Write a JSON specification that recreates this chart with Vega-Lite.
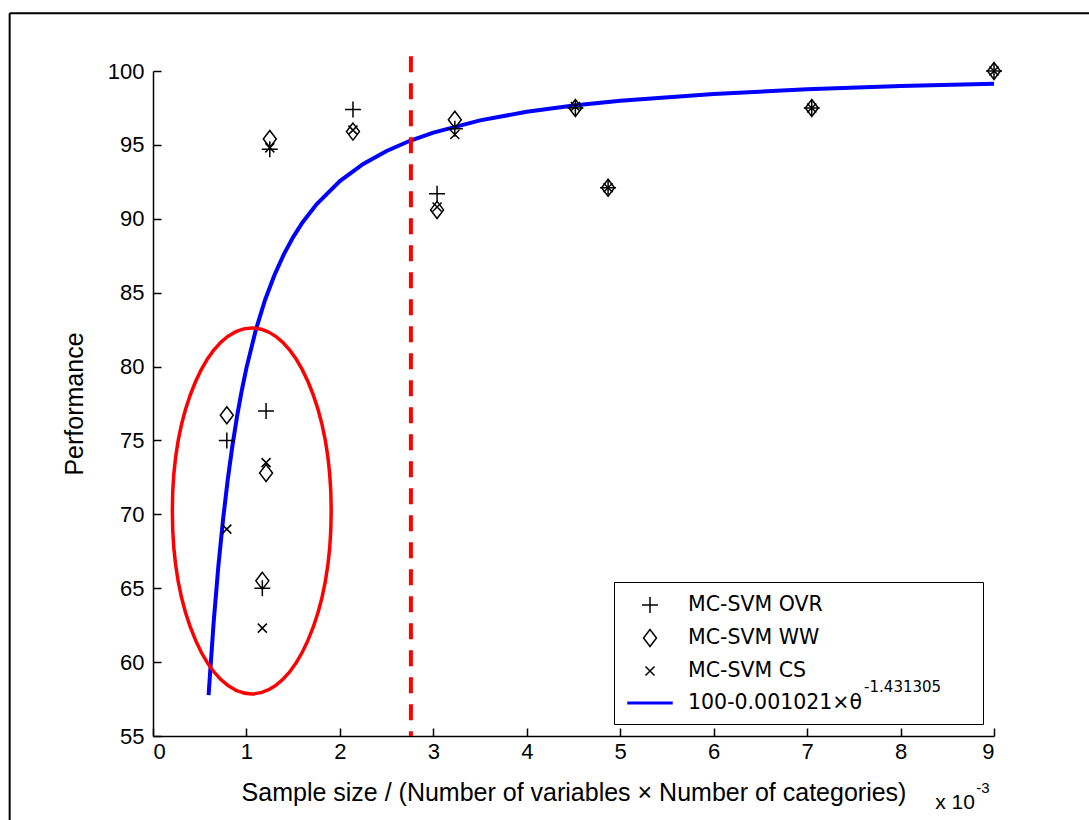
{
  "$schema": "https://vega.github.io/schema/vega-lite/v6.json",
  "width": 841,
  "height": 665,
  "autosize": {"type": "none"},
  "padding": {"left": 153, "top": 71, "right": 95, "bottom": 84},
  "background": "white",
  "config": {
    "view": {"stroke": null},
    "font": "Liberation Sans",
    "legend": {
      "orient": "none",
      "legendX": 461,
      "legendY": 511,
      "strokeColor": "black",
      "fillColor": null,
      "padding": 10,
      "labelFont": "DejaVu Sans",
      "labelFontSize": 20.5,
      "labelColor": "black",
      "labelLimit": 0,
      "labelOffset": 25,
      "symbolOffset": 13,
      "symbolSize": 576,
      "symbolStrokeWidth": 1.5,
      "rowPadding": 8
    }
  },
  "datasets": {
    "points": [
      {"ratio": 0.79, "performance": 75.0, "series": "MC-SVM OVR"},
      {"ratio": 1.21, "performance": 77.0, "series": "MC-SVM OVR"},
      {"ratio": 1.17, "performance": 65.0, "series": "MC-SVM OVR"},
      {"ratio": 1.25, "performance": 94.7, "series": "MC-SVM OVR"},
      {"ratio": 2.14, "performance": 97.4, "series": "MC-SVM OVR"},
      {"ratio": 3.04, "performance": 91.7, "series": "MC-SVM OVR"},
      {"ratio": 3.23, "performance": 96.1, "series": "MC-SVM OVR"},
      {"ratio": 4.52, "performance": 97.5, "series": "MC-SVM OVR"},
      {"ratio": 4.87, "performance": 92.1, "series": "MC-SVM OVR"},
      {"ratio": 7.05, "performance": 97.5, "series": "MC-SVM OVR"},
      {"ratio": 9.0, "performance": 100.0, "series": "MC-SVM OVR"},
      {"ratio": 0.79, "performance": 76.7, "series": "MC-SVM WW"},
      {"ratio": 1.21, "performance": 72.8, "series": "MC-SVM WW"},
      {"ratio": 1.17, "performance": 65.5, "series": "MC-SVM WW"},
      {"ratio": 1.25, "performance": 95.4, "series": "MC-SVM WW"},
      {"ratio": 2.14, "performance": 95.9, "series": "MC-SVM WW"},
      {"ratio": 3.04, "performance": 90.6, "series": "MC-SVM WW"},
      {"ratio": 3.23, "performance": 96.7, "series": "MC-SVM WW"},
      {"ratio": 4.52, "performance": 97.5, "series": "MC-SVM WW"},
      {"ratio": 4.87, "performance": 92.1, "series": "MC-SVM WW"},
      {"ratio": 7.05, "performance": 97.5, "series": "MC-SVM WW"},
      {"ratio": 9.0, "performance": 100.0, "series": "MC-SVM WW"},
      {"ratio": 0.79, "performance": 69.0, "series": "MC-SVM CS"},
      {"ratio": 1.21, "performance": 73.5, "series": "MC-SVM CS"},
      {"ratio": 1.17, "performance": 62.3, "series": "MC-SVM CS"},
      {"ratio": 1.25, "performance": 94.8, "series": "MC-SVM CS"},
      {"ratio": 2.14, "performance": 96.0, "series": "MC-SVM CS"},
      {"ratio": 3.04, "performance": 90.8, "series": "MC-SVM CS"},
      {"ratio": 3.23, "performance": 95.7, "series": "MC-SVM CS"},
      {"ratio": 4.52, "performance": 97.6, "series": "MC-SVM CS"},
      {"ratio": 4.87, "performance": 92.1, "series": "MC-SVM CS"},
      {"ratio": 7.05, "performance": 97.5, "series": "MC-SVM CS"},
      {"ratio": 9.0, "performance": 100.0, "series": "MC-SVM CS"}
    ],
    "fit": [
      {"ratio": 0.595, "performance": 57.76},
      {"ratio": 0.6, "performance": 58.26},
      {"ratio": 0.65, "performance": 62.78},
      {"ratio": 0.7, "performance": 66.53},
      {"ratio": 0.75, "performance": 69.67},
      {"ratio": 0.8, "performance": 72.35},
      {"ratio": 0.85, "performance": 74.65},
      {"ratio": 0.9, "performance": 76.64},
      {"ratio": 0.95, "performance": 78.38},
      {"ratio": 1.0, "performance": 79.91},
      {"ratio": 1.1, "performance": 82.47},
      {"ratio": 1.2, "performance": 84.52},
      {"ratio": 1.3, "performance": 86.2},
      {"ratio": 1.4, "performance": 87.59},
      {"ratio": 1.5, "performance": 88.76},
      {"ratio": 1.6, "performance": 89.75},
      {"ratio": 1.75, "performance": 90.98},
      {"ratio": 2.0, "performance": 92.55},
      {"ratio": 2.25, "performance": 93.71},
      {"ratio": 2.5, "performance": 94.59},
      {"ratio": 2.75, "performance": 95.28},
      {"ratio": 3.0, "performance": 95.83},
      {"ratio": 3.5, "performance": 96.66},
      {"ratio": 4.0, "performance": 97.24},
      {"ratio": 4.5, "performance": 97.67},
      {"ratio": 5.0, "performance": 97.99},
      {"ratio": 6.0, "performance": 98.45},
      {"ratio": 7.0, "performance": 98.76},
      {"ratio": 8.0, "performance": 98.98},
      {"ratio": 9.0, "performance": 99.13}
    ]
  },
  "layer": [
    {
      "data": {"name": "fit"},
      "mark": {"type": "line", "color": "#0000ff", "strokeWidth": 4, "clip": false},
      "encoding": {
        "x": {
          "field": "ratio", "type": "quantitative",
          "scale": {"domain": [0, 9], "nice": false, "zero": false},
          "axis": {
            "title": "Sample size / (Number of variables × Number of categories)",
            "values": [0, 1, 2, 3, 4, 5, 6, 7, 8, 9],
            "format": "d",
            "grid": false,
            "tickSize": -8,
            "tickColor": "black",
            "tickWidth": 1.5,
            "domainColor": "black",
            "domainWidth": 1.5,
            "labelFont": "Liberation Sans",
            "labelFontSize": 22,
            "labelColor": "black",
            "labelPadding": 13,
            "titleFont": "Liberation Sans",
            "titleFontSize": 25,
            "titleFontWeight": "normal",
            "titleColor": "black",
            "titlePadding": 18
          }
        },
        "y": {
          "field": "performance", "type": "quantitative",
          "scale": {"domain": [55, 100], "nice": false, "zero": false},
          "axis": {
            "title": "Performance",
            "values": [55, 60, 65, 70, 75, 80, 85, 90, 95, 100],
            "format": "d",
            "grid": false,
            "tickSize": -8,
            "tickColor": "black",
            "tickWidth": 1.5,
            "domainColor": "black",
            "domainWidth": 1.5,
            "labelFont": "Liberation Sans",
            "labelFontSize": 22,
            "labelColor": "black",
            "labelPadding": 17,
            "titleFont": "Liberation Sans",
            "titleFontSize": 25,
            "titleFontWeight": "normal",
            "titleColor": "black",
            "titlePadding": 20
          }
        }
      }
    },
    {
      "data": {"name": "points"},
      "mark": {"type": "point", "filled": false, "strokeWidth": 1.5, "size": 576, "opacity": 1},
      "encoding": {
        "x": {"field": "ratio", "type": "quantitative"},
        "y": {"field": "performance", "type": "quantitative"},
        "color": {
          "field": "series", "type": "nominal",
          "scale": {
            "domain": ["MC-SVM OVR", "MC-SVM WW", "MC-SVM CS", "100-0.001021×θ\u00a0\u00a0\u00a0\u00a0\u00a0\u00a0\u00a0\u00a0\u00a0\u00a0\u00a0\u00a0\u00a0\u00a0\u00a0\u00a0\u00a0\u200b"],
            "range": ["#000000", "#000000", "#000000", "#0000ff"]
          },
          "legend": {"title": null}
        },
        "shape": {
          "field": "series", "type": "nominal",
          "scale": {
            "domain": ["MC-SVM OVR", "MC-SVM WW", "MC-SVM CS", "100-0.001021×θ\u00a0\u00a0\u00a0\u00a0\u00a0\u00a0\u00a0\u00a0\u00a0\u00a0\u00a0\u00a0\u00a0\u00a0\u00a0\u00a0\u00a0\u200b"],
            "range": [
              "M-0.667,0H0.667M0,-0.667V0.667",
              "M0,-0.708L0.541,0L0,0.708L-0.541,0Z",
              "M-0.376,-0.376L0.376,0.376M-0.376,0.376L0.376,-0.376",
              "M-1.833,-0.06H1.833V0.06H-1.833Z"
            ]
          },
          "legend": {"title": null}
        }
      }
    },
    {
      "data": {"values": [{}]},
      "mark": {"type": "rule", "color": "#ff0000", "strokeWidth": 4, "strokeDash": [16, 11]},
      "encoding": {
        "x": {"datum": 2.76},
        "y": {"datum": 101},
        "y2": {"datum": 55}
      }
    },
    {
      "data": {"values": [{}]},
      "mark": {
        "type": "point", "filled": false, "stroke": "#ff0000", "strokeWidth": 3.5, "opacity": 1,
        "size": 133956,
        "shape": "M0,-1A0.434,1 0 1,1 0,1A0.434,1 0 1,1 0,-1Z"
      },
      "encoding": {
        "x": {"datum": 1.057},
        "y": {"datum": 70.23}
      }
    },
    {
      "data": {"values": [{}]},
      "mark": {"type": "text", "align": "left", "baseline": "alphabetic", "font": "DejaVu Sans", "fontSize": 15, "color": "black"},
      "encoding": {
        "x": {"datum": 7.61},
        "y": {"datum": 57.98},
        "text": {"value": "-1.431305"}
      }
    },
    {
      "data": {"values": [{}]},
      "mark": {"type": "text", "align": "left", "baseline": "alphabetic", "font": "Liberation Sans", "fontSize": 21, "color": "black"},
      "encoding": {
        "x": {"datum": 8.37},
        "y": {"datum": 50.07},
        "text": {"value": "x 10"}
      }
    },
    {
      "data": {"values": [{}]},
      "mark": {"type": "text", "align": "left", "baseline": "alphabetic", "font": "Liberation Sans", "fontSize": 15, "color": "black"},
      "encoding": {
        "x": {"datum": 8.81},
        "y": {"datum": 51.15},
        "text": {"value": "-3"}
      }
    },
    {
      "data": {"values": [{}]},
      "mark": {"type": "rule", "color": "black", "strokeWidth": 2},
      "encoding": {
        "x": {"datum": -1.534},
        "y": {"datum": 103.9},
        "y2": {"datum": 49.0}
      }
    },
    {
      "data": {"values": [{}]},
      "mark": {"type": "rule", "color": "black", "strokeWidth": 2},
      "encoding": {
        "x": {"datum": -1.534},
        "x2": {"datum": 10.1},
        "y": {"datum": 103.9}
      }
    }
  ]
}
